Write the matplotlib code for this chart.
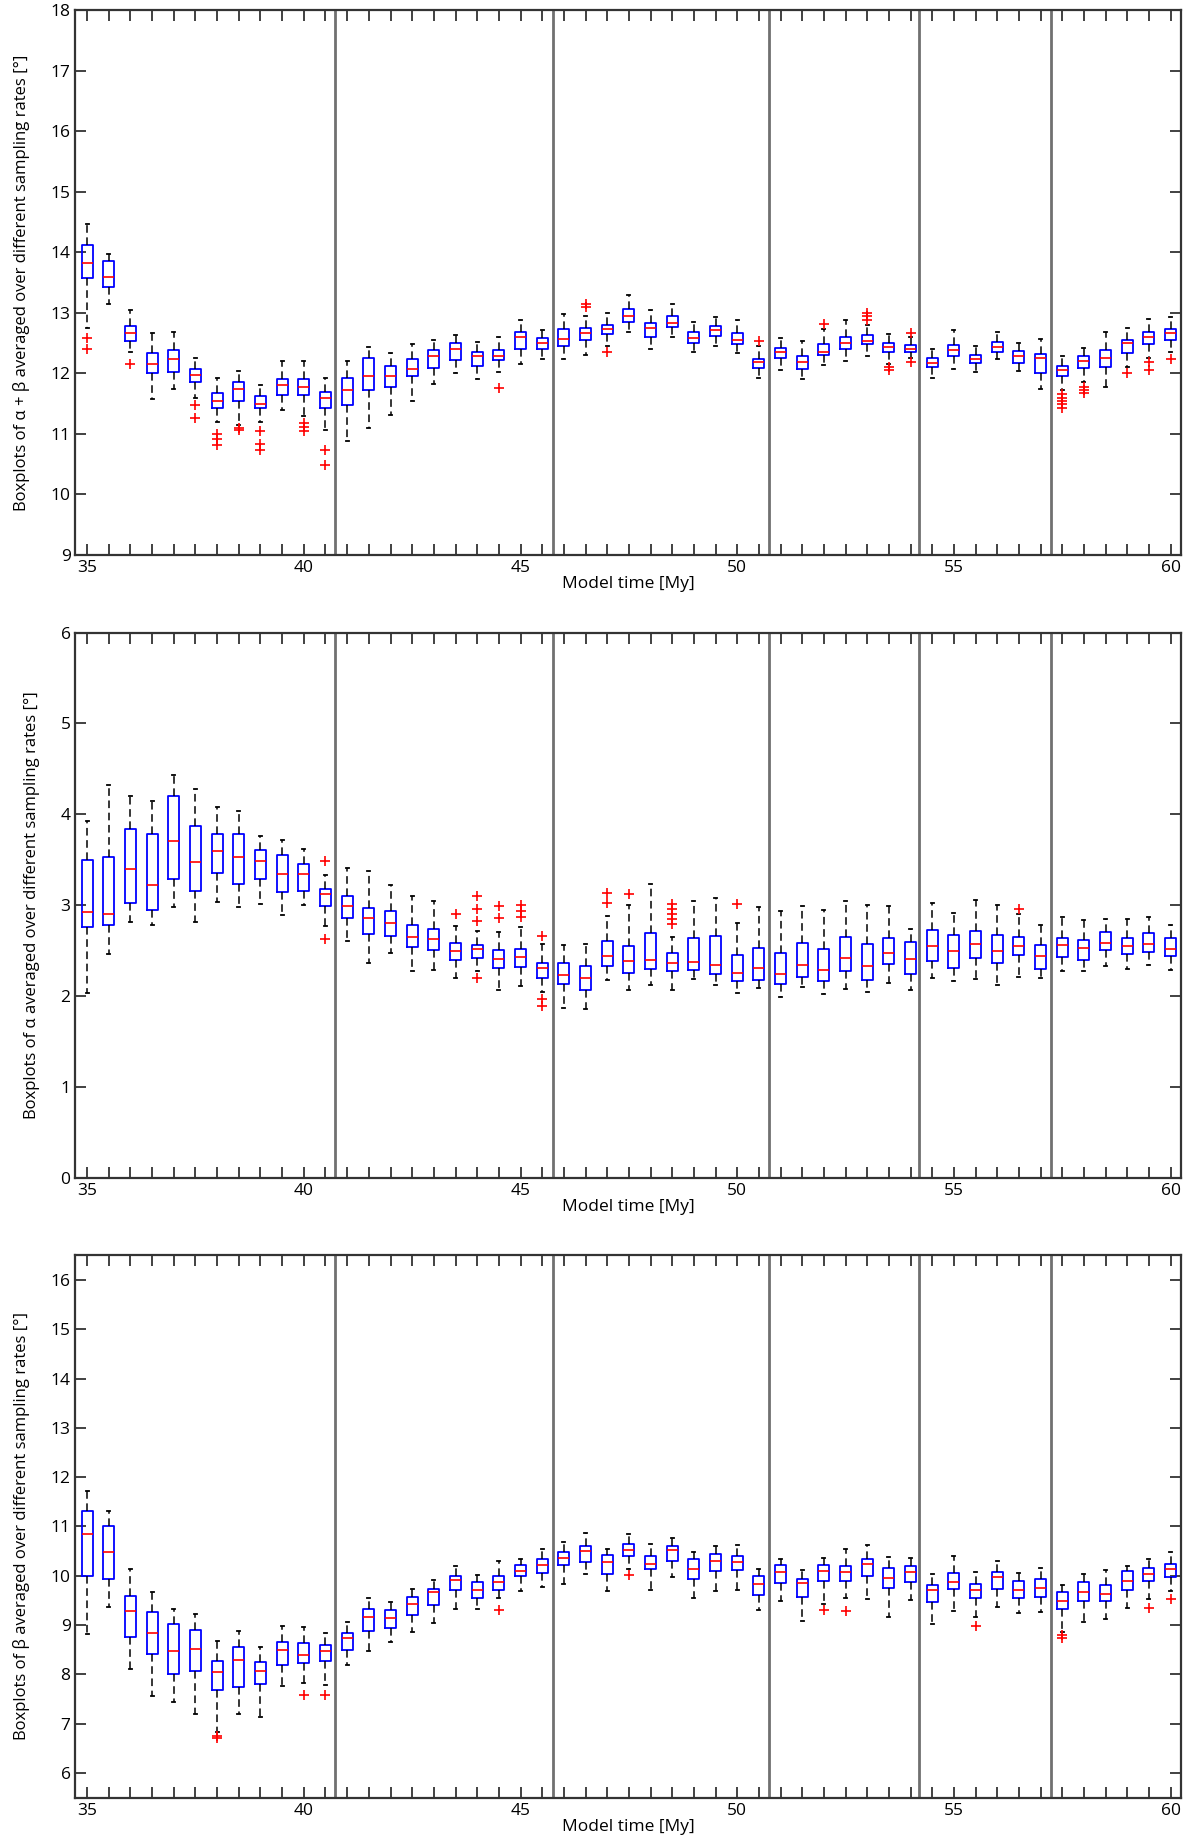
import numpy as np
import matplotlib
matplotlib.use("Agg")
from matplotlib import pyplot as plt

plt.rcParams['font.family'] = ['Open Sans', 'DejaVu Sans']

times = [35.0, 35.5, 36.0, 36.5, 37.0, 37.5, 38.0, 38.5, 39.0, 39.5,
         40.0, 40.5, 41.0, 41.5, 42.0, 42.5, 43.0, 43.5, 44.0, 44.5,
         45.0, 45.5, 46.0, 46.5, 47.0, 47.5, 48.0, 48.5, 49.0, 49.5,
         50.0, 50.5, 51.0, 51.5, 52.0, 52.5, 53.0, 53.5, 54.0, 54.5,
         55.0, 55.5, 56.0, 56.5, 57.0, 57.5, 58.0, 58.5, 59.0, 59.5, 60.0]
separators = [40.73, 45.75, 50.73, 54.2, 57.23]

# alpha + beta
ab_q1 = [13.57, 13.43, 12.53, 12.0, 12.02, 11.85, 11.43, 11.55, 11.42, 11.64,
         11.64, 11.42, 11.48, 11.72, 11.78, 11.95, 12.09, 12.22, 12.12, 12.22,
         12.4, 12.4, 12.45, 12.55, 12.65, 12.85, 12.6, 12.76, 12.51, 12.62,
         12.48, 12.09, 12.25, 12.07, 12.3, 12.4, 12.48, 12.36, 12.36, 12.1,
         12.29, 12.17, 12.35, 12.17, 12.01, 11.95, 12.09, 12.1, 12.34, 12.48, 12.55]
ab_med = [13.83, 13.6, 12.66, 12.16, 12.24, 11.98, 11.55, 11.75, 11.49, 11.8,
          11.78, 11.59, 11.72, 11.95, 11.95, 12.07, 12.28, 12.4, 12.28, 12.29,
          12.6, 12.5, 12.57, 12.67, 12.73, 12.95, 12.75, 12.84, 12.59, 12.71,
          12.56, 12.19, 12.35, 12.18, 12.36, 12.5, 12.54, 12.44, 12.41, 12.17,
          12.38, 12.24, 12.43, 12.28, 12.26, 12.06, 12.21, 12.25, 12.5, 12.6, 12.66]
ab_q3 = [14.12, 13.86, 12.79, 12.33, 12.38, 12.07, 11.68, 11.85, 11.62, 11.9,
         11.9, 11.69, 11.93, 12.26, 12.12, 12.24, 12.38, 12.51, 12.36, 12.38,
         12.69, 12.59, 12.73, 12.75, 12.8, 13.06, 12.84, 12.95, 12.68, 12.78,
         12.66, 12.24, 12.42, 12.29, 12.48, 12.6, 12.63, 12.5, 12.47, 12.25,
         12.47, 12.3, 12.52, 12.37, 12.32, 12.12, 12.28, 12.39, 12.55, 12.69, 12.74]
ab_lo = [12.75, 13.15, 12.35, 11.57, 11.74, 11.59, 11.2, 11.15, 11.19, 11.4,
         11.3, 11.07, 10.88, 11.1, 11.32, 11.54, 11.83, 12.0, 11.9, 12.02,
         12.15, 12.24, 12.23, 12.31, 12.45, 12.68, 12.41, 12.6, 12.35, 12.46,
         12.33, 11.92, 12.06, 11.91, 12.14, 12.21, 12.28, 12.15, 12.25, 11.92,
         12.08, 12.02, 12.23, 12.04, 11.75, 11.72, 11.86, 11.78, 12.1, 12.26, 12.35]
ab_hi = [14.47, 13.98, 13.04, 12.66, 12.68, 12.25, 11.93, 12.04, 11.8, 12.21,
         12.21, 11.93, 12.21, 12.44, 12.33, 12.49, 12.56, 12.64, 12.52, 12.6,
         12.88, 12.71, 12.98, 12.95, 13.0, 13.29, 13.05, 13.15, 12.85, 12.94,
         12.88, 12.45, 12.58, 12.54, 12.73, 12.88, 12.8, 12.65, 12.6, 12.41,
         12.72, 12.45, 12.69, 12.5, 12.57, 12.28, 12.42, 12.68, 12.75, 12.9, 12.94]
ab_out = [[12.58, 12.40], [], [12.15], [], [], [11.48, 11.27], [11.0, 10.91, 10.82],
          [11.1, 11.06], [11.04, 10.83, 10.73], [], [11.18, 11.12, 11.04], [10.73, 10.49],
          [], [], [], [], [], [], [], [11.76], [], [], [], [13.14, 13.09], [12.35],
          [], [], [], [], [], [], [12.54], [], [], [12.82], [], [13.0, 12.95, 12.88],
          [12.1, 12.05], [12.67, 12.19], [], [], [], [], [], [],
          [11.66, 11.6, 11.55, 11.5, 11.42], [11.77, 11.72, 11.67], [], [12.0],
          [12.19, 12.05], [12.23]]

# alpha
a_q1 = [2.755, 2.78, 3.02, 2.95, 3.29, 3.15, 3.35, 3.23, 3.29, 3.14,
        3.16, 2.99, 2.86, 2.68, 2.66, 2.54, 2.51, 2.4, 2.42, 2.31,
        2.32, 2.2, 2.13, 2.07, 2.33, 2.25, 2.3, 2.27, 2.29, 2.24,
        2.16, 2.18, 2.13, 2.21, 2.16, 2.27, 2.18, 2.35, 2.24, 2.38,
        2.31, 2.42, 2.36, 2.45, 2.3, 2.43, 2.4, 2.51, 2.46, 2.48, 2.44]
a_med = [2.92, 2.9, 3.4, 3.22, 3.71, 3.47, 3.59, 3.53, 3.49, 3.34,
         3.34, 3.12, 2.99, 2.86, 2.8, 2.65, 2.63, 2.49, 2.52, 2.41,
         2.43, 2.31, 2.23, 2.2, 2.44, 2.38, 2.4, 2.36, 2.37, 2.34,
         2.25, 2.31, 2.24, 2.34, 2.29, 2.42, 2.33, 2.47, 2.41, 2.55,
         2.5, 2.57, 2.49, 2.55, 2.44, 2.56, 2.53, 2.58, 2.55, 2.57, 2.52]
a_q3 = [3.5, 3.53, 3.84, 3.78, 4.2, 3.87, 3.78, 3.78, 3.61, 3.55,
        3.45, 3.18, 3.1, 2.97, 2.94, 2.78, 2.74, 2.58, 2.56, 2.51,
        2.52, 2.36, 2.36, 2.33, 2.6, 2.55, 2.69, 2.47, 2.64, 2.66,
        2.45, 2.53, 2.47, 2.58, 2.52, 2.65, 2.57, 2.64, 2.59, 2.73,
        2.67, 2.71, 2.67, 2.65, 2.56, 2.64, 2.62, 2.7, 2.64, 2.69, 2.64]
a_lo = [2.03, 2.46, 2.81, 2.78, 2.98, 2.81, 3.03, 2.98, 3.01, 2.89,
        3.0, 2.77, 2.61, 2.36, 2.47, 2.27, 2.29, 2.2, 2.27, 2.07,
        2.11, 2.04, 1.87, 1.86, 2.18, 2.07, 2.12, 2.07, 2.19, 2.12,
        2.03, 2.09, 1.99, 2.1, 2.02, 2.08, 2.04, 2.14, 2.07, 2.2,
        2.17, 2.19, 2.12, 2.21, 2.2, 2.28, 2.27, 2.33, 2.3, 2.34, 2.29]
a_hi = [3.93, 4.32, 4.2, 4.15, 4.43, 4.28, 4.08, 4.04, 3.76, 3.72,
        3.62, 3.33, 3.41, 3.37, 3.22, 3.1, 3.05, 2.77, 2.72, 2.7,
        2.76, 2.57, 2.56, 2.57, 2.88, 3.0, 3.23, 2.65, 3.04, 3.08,
        2.8, 2.98, 2.93, 2.99, 2.95, 3.05, 3.0, 2.99, 2.74, 3.02,
        2.91, 3.06, 3.0, 2.9, 2.78, 2.87, 2.84, 2.85, 2.85, 2.87, 2.78]
a_out = [[], [], [], [], [], [], [], [], [], [], [], [3.48, 2.63], [], [], [], [], [],
         [2.9], [3.1, 2.96, 2.83, 2.2], [2.99, 2.86], [3.0, 2.94, 2.87],
         [2.66, 1.97, 1.89], [], [], [3.13, 3.02], [3.12], [],
         [3.01, 2.96, 2.9, 2.85, 2.79], [], [], [3.01], [], [], [], [], [], [], [],
         [], [], [], [], [], [2.96], [], [], [], [], [], [], []]

# beta
b_q1 = [10.0, 9.94, 8.75, 8.42, 8.0, 8.07, 7.68, 7.74, 7.8, 8.2,
        8.24, 8.27, 8.49, 8.88, 8.95, 9.21, 9.41, 9.72, 9.55, 9.72,
        9.99, 10.06, 10.22, 10.28, 10.04, 10.4, 10.13, 10.3, 9.94, 10.09,
        10.11, 9.62, 9.86, 9.57, 9.89, 9.9, 10.0, 9.75, 9.87, 9.46,
        9.73, 9.55, 9.73, 9.55, 9.56, 9.32, 9.49, 9.49, 9.72, 9.89, 9.97]
b_med = [10.84, 10.48, 9.28, 8.83, 8.47, 8.52, 8.04, 8.3, 8.06, 8.5,
         8.4, 8.47, 8.73, 9.16, 9.15, 9.43, 9.67, 9.91, 9.72, 9.88,
         10.09, 10.22, 10.36, 10.51, 10.27, 10.52, 10.24, 10.52, 10.13, 10.3,
         10.27, 9.83, 10.08, 9.85, 10.1, 10.07, 10.24, 9.96, 10.08, 9.71,
         9.87, 9.71, 9.97, 9.72, 9.75, 9.48, 9.68, 9.63, 9.9, 10.03, 10.13]
b_q3 = [11.31, 11.01, 9.59, 9.26, 9.02, 8.91, 8.28, 8.55, 8.26, 8.65,
        8.64, 8.6, 8.84, 9.32, 9.31, 9.56, 9.73, 10.0, 9.88, 9.99,
        10.22, 10.34, 10.48, 10.61, 10.42, 10.65, 10.41, 10.61, 10.34, 10.44,
        10.41, 10.0, 10.21, 9.94, 10.21, 10.2, 10.35, 10.16, 10.19, 9.82,
        10.06, 9.83, 10.08, 9.9, 9.93, 9.68, 9.88, 9.82, 10.09, 10.16, 10.24]
b_lo = [8.82, 9.36, 8.11, 7.57, 7.45, 7.2, 6.83, 7.19, 7.14, 7.77,
        7.83, 7.79, 8.2, 8.48, 8.66, 8.85, 9.05, 9.32, 9.33, 9.54,
        9.7, 9.78, 9.83, 10.03, 9.7, 10.13, 9.71, 9.97, 9.54, 9.69,
        9.72, 9.3, 9.49, 9.09, 9.43, 9.54, 9.53, 9.17, 9.51, 9.03,
        9.29, 9.17, 9.37, 9.25, 9.26, 8.85, 9.07, 9.12, 9.35, 9.52, 9.7]
b_hi = [11.71, 11.31, 10.13, 9.67, 9.32, 9.22, 8.67, 8.87, 8.56, 8.99,
        8.97, 8.84, 9.07, 9.55, 9.46, 9.73, 9.92, 10.19, 10.02, 10.29,
        10.35, 10.55, 10.69, 10.86, 10.55, 10.84, 10.65, 10.76, 10.48, 10.61,
        10.63, 10.13, 10.34, 10.11, 10.36, 10.55, 10.63, 10.38, 10.37, 10.03,
        10.41, 10.07, 10.29, 10.05, 10.16, 9.82, 10.03, 10.11, 10.2, 10.34, 10.48]
b_out = [[], [], [], [], [], [], [6.76, 6.71], [], [], [], [7.59], [7.59], [], [], [],
         [], [], [], [], [9.3], [], [], [], [], [], [10.01], [], [], [], [], [], [],
         [], [], [9.3], [9.29], [], [], [], [], [], [8.99], [], [], [],
         [8.79, 8.73], [], [], [], [9.35], [9.53]]

panels = [
    (ab_q1, ab_med, ab_q3, ab_lo, ab_hi, ab_out, (9, 18), range(9, 19),
     'Boxplots of \u03b1 + \u03b2 averaged over different sampling rates [\u00b0]'),
    (a_q1, a_med, a_q3, a_lo, a_hi, a_out, (0, 6), range(0, 7),
     'Boxplots of \u03b1 averaged over different sampling rates [\u00b0]'),
    (b_q1, b_med, b_q3, b_lo, b_hi, b_out, (5.5, 16.5), range(6, 17),
     'Boxplots of \u03b2 averaged over different sampling rates [\u00b0]'),
]
rects = [[0.0634, 0.6989, 0.929, 0.2955],
         [0.0634, 0.3610, 0.929, 0.2958],
         [0.0634, 0.0246, 0.929, 0.2943]]

fig = plt.figure(figsize=(11.9, 18.43), dpi=100)
for rect, (q1, med, q3, lo, hi, out, ylim, yt, ylab) in zip(rects, panels):
    ax = fig.add_axes(rect)
    stats = []
    for i in range(len(times)):
        stats.append(dict(q1=q1[i], med=med[i], q3=q3[i], whislo=lo[i],
                          whishi=hi[i], fliers=out[i]))
    ax.bxp(stats, positions=times, widths=0.25, capwidths=0.07,
           manage_ticks=False,
           boxprops=dict(color='#0000ff', linewidth=1.3),
           medianprops=dict(color='#ff0000', linewidth=1.2),
           whiskerprops=dict(color='black', linewidth=1.1, linestyle=(0, (5, 3))),
           capprops=dict(color='black', linewidth=1.3),
           flierprops=dict(marker='+', markeredgecolor='#ff0000',
                           markersize=7, markeredgewidth=1.2, linestyle='none'))
    for s in separators:
        ax.axvline(s, color='#707070', linewidth=2)
    ax.set_xlim(34.73, 60.24)
    ax.set_ylim(*ylim)
    ax.set_yticks(list(yt))
    ax.set_xticks(times)
    ax.set_xticklabels([str(int(t)) if t % 5 == 0 else '' for t in times])
    ax.tick_params(direction='in', top=True, right=True, length=8, width=1.3,
                   labelsize=12.5, color='#333333')
    for sp in ax.spines.values():
        sp.set_color('#333333')
        sp.set_linewidth(1.6)
    ax.set_xlabel('Model time [My]', fontsize=12.5, labelpad=0)
    ax.set_ylabel(ylab, fontsize=12, labelpad=15)

fig.savefig('out.png', dpi=100)
